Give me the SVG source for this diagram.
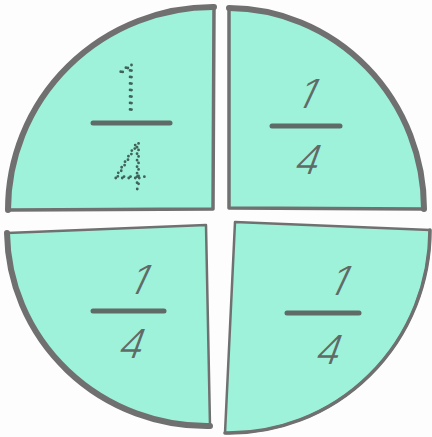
<svg xmlns="http://www.w3.org/2000/svg" width="432" height="437" viewBox="0 0 432 437">
<style>
.piece{fill:#9ff2da;stroke:#707070;stroke-width:3.5;stroke-linejoin:round}
.rim{fill:none;stroke:#707070;stroke-width:6;stroke-linecap:round}
.bar{stroke:#5f6b66;stroke-width:5;stroke-linecap:round}
.num{font-family:Inter,"Liberation Sans",sans-serif;font-weight:300;font-size:40px;fill:#5f6b66;text-anchor:middle}
.dot{font-family:Inter,"Liberation Sans",sans-serif;font-weight:100;font-size:64px;fill:none;stroke:#3f6259;stroke-width:2.8;stroke-dasharray:0 6.5;stroke-linecap:round;text-anchor:middle}
</style>
<rect width="432" height="437" fill="#fdfdfd"/>
<g id="q-top-left">
<path class="piece" d="M214 7 L213 209 L8 210 A205 203 0 0 1 214 7 Z"/>
<path class="rim" d="M8 210 A205 203 0 0 1 214 7"/>
<line class="bar" x1="93" y1="123" x2="170" y2="123"/>
<text class="dot" x="127" y="112">1</text>
<text class="dot" x="130" y="189">4</text>
</g>
<g id="q-top-right">
<path class="piece" d="M229 8 A196 201 0 0 1 424 209 L229 208 Z"/>
<path class="rim" d="M229 8 A196 201 0 0 1 424 209"/>
<line class="bar" x1="272" y1="126" x2="340" y2="126"/>
<text class="num" transform="translate(302 108) skewX(-25)">1</text>
<text class="num" transform="translate(304 174) skewX(-20)">4</text>
</g>
<g id="q-bottom-left">
<path class="piece" d="M7 233 L206 225 L210 426 A200 196 0 0 1 7 233 Z" style="stroke-width:2.5"/>
<path class="rim" d="M210 426 A200 196 0 0 1 7 233"/>
<line class="bar" x1="93" y1="311" x2="164" y2="311"/>
<text class="num" transform="translate(134 294) skewX(-25)">1</text>
<text class="num" transform="translate(128 358) skewX(-20)">4</text>
</g>
<g id="q-bottom-right">
<path class="piece" d="M235 222 L430 230 A201 203 0 0 1 225 433 Z" style="stroke-width:2.5"/>
<path class="rim" d="M430 230 A201 203 0 0 1 225 433" style="stroke-width:3.5"/>
<line class="bar" x1="287" y1="313" x2="359" y2="313"/>
<text class="num" transform="translate(334 295) skewX(-25)">1</text>
<text class="num" transform="translate(325 364) skewX(-20)">4</text>
</g>
</svg>
